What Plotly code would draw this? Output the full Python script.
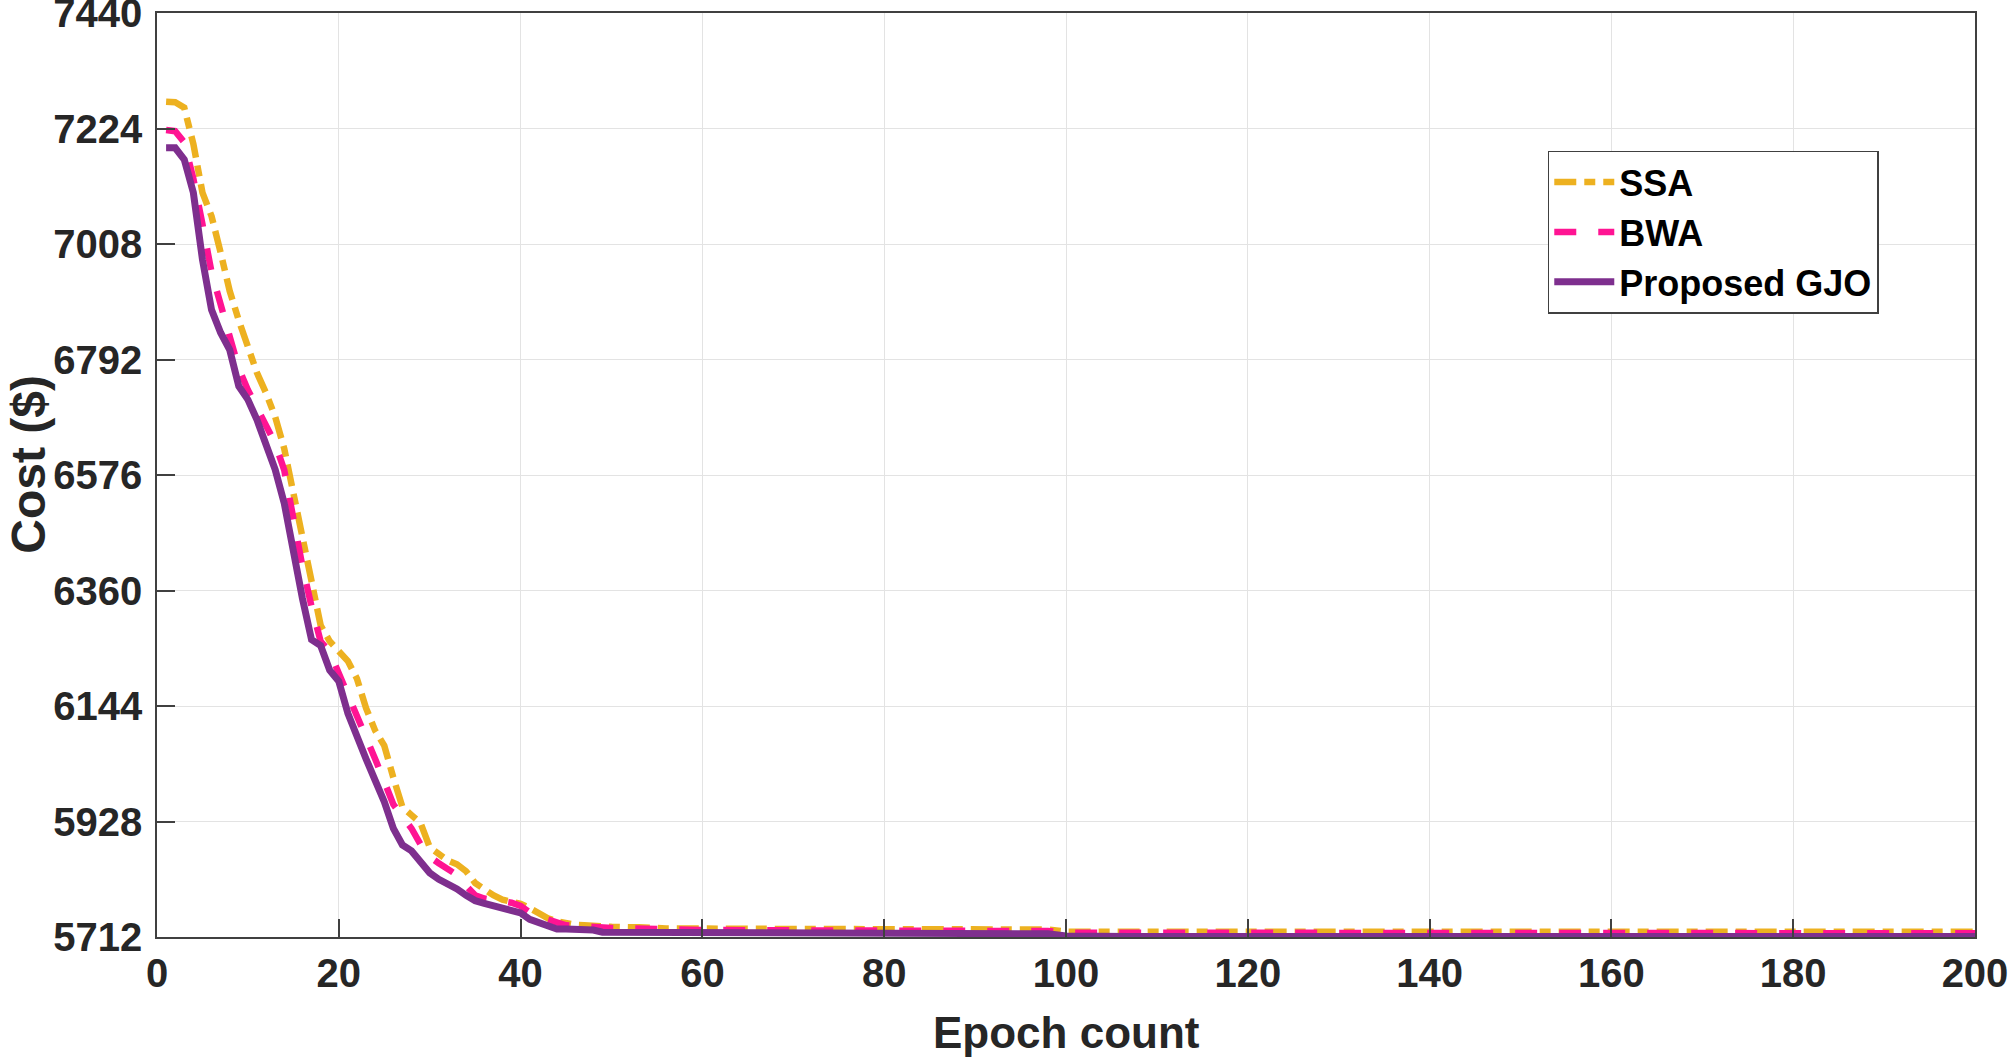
import plotly.graph_objects as go

# ---------------- data ----------------
ssa_epoch = list(range(1, 49)) + [50, 53, 56, 70, 98, 100, 200]
ssa_cost = [7274, 7273, 7263, 7195, 7104, 7060, 6992, 6920, 6865, 6815,
            6767, 6729, 6685, 6625, 6540, 6450, 6370, 6295, 6265, 6248,
            6228, 6195, 6140, 6098, 6070, 6010, 5955, 5940, 5925, 5880,
            5866, 5855, 5848, 5835, 5813, 5800, 5790, 5782, 5778, 5774,
            5766, 5755, 5747, 5741, 5737, 5735, 5734, 5732,
            5731, 5730, 5728, 5727, 5726, 5722, 5722]

bwa_epoch = list(range(1, 49)) + [50, 55, 60, 98, 100, 200]
bwa_cost = [7221, 7219, 7198, 7130, 7045, 6955, 6895, 6840, 6775, 6735,
            6700, 6670, 6635, 6585, 6490, 6405, 6330, 6265, 6245, 6205,
            6168, 6125, 6092, 6045, 6003, 5960, 5937, 5915, 5885, 5862,
            5850, 5840, 5828, 5808, 5790, 5784, 5782, 5780, 5776, 5770,
            5758, 5750, 5745, 5738, 5734, 5733, 5732, 5730,
            5729, 5727, 5725, 5723, 5720, 5719]

gjo_epoch = list(range(1, 51)) + [54, 60, 70, 98, 100, 107, 200]
gjo_cost = [7188, 7188, 7166, 7104, 6979, 6885, 6842, 6810, 6742, 6717,
            6679, 6629, 6586, 6523, 6425, 6345, 6268, 6257, 6211, 6190,
            6130, 6085, 6045, 6005, 5965, 5915, 5884, 5873, 5850, 5832,
            5820, 5812, 5802, 5790, 5780, 5775, 5771, 5767, 5763, 5757,
            5745, 5740, 5734, 5727, 5727, 5727, 5727, 5725, 5721, 5721,
            5719, 5719, 5718, 5718, 5714, 5713, 5713]

x_ticks = [0, 20, 40, 60, 80, 100, 120, 140, 160, 180, 200]
y_ticks = [5712, 5928, 6144, 6360, 6576, 6792, 7008, 7224, 7440]

x_title = "Epoch count"
y_title = "Cost ($)"

# ---------------- figure ----------------
FONT = "Liberation Sans, Arial, sans-serif"
TXT = "#262626"

fig = go.Figure()
fig.add_trace(go.Scatter(x=ssa_epoch, y=ssa_cost, mode="lines", name="SSA",
                         line=dict(color="#EDB120", width=6.5, dash="22px,8px,11px,8px")))
fig.add_trace(go.Scatter(x=bwa_epoch, y=bwa_cost, mode="lines", name="BWA",
                         line=dict(color="#FF1493", width=6.5, dash="22px,22px")))
fig.add_trace(go.Scatter(x=gjo_epoch, y=gjo_cost, mode="lines", name="Proposed GJO",
                         line=dict(color="#7E2F8E", width=7)))

axis_common = dict(
    showgrid=True, gridcolor="#e3e3e3", gridwidth=1,
    showline=True, linecolor="#404040", linewidth=1.5, mirror=True,
    ticks="inside", ticklen=18, tickcolor="#404040", tickwidth=1.5,
    zeroline=False, automargin=False, ticklabeloverflow="allow",
    tickfont=dict(family=FONT, size=40, color=TXT, weight="bold"),
)

fig.update_xaxes(**axis_common, range=[0, 200], tickvals=x_ticks,
                 ticklabelstandoff=0)
fig.update_yaxes(**axis_common, range=[5712, 7440], tickvals=y_ticks,
                 ticklabelstandoff=5)

# axis titles placed as annotations for exact positioning
fig.add_annotation(text=x_title, xref="paper", yref="paper", x=0.5, y=-0.103,
                   xanchor="center", yanchor="middle", showarrow=False,
                   font=dict(family=FONT, size=44, color=TXT, weight="bold"))
fig.add_annotation(text=y_title, xref="paper", yref="paper", x=-0.0705, y=0.512,
                   xanchor="center", yanchor="middle", showarrow=False, textangle=-90,
                   font=dict(family=FONT, size=48, color=TXT, weight="bold"))

fig.update_layout(
    width=2008, height=1057,
    margin=dict(l=157, r=33, t=13, b=120),
    paper_bgcolor="white", plot_bgcolor="white",
    showlegend=True,
    legend=dict(x=0.765, y=0.851, xanchor="left", yanchor="top",
                bgcolor="white", bordercolor="#404040", borderwidth=1.5,
                font=dict(family=FONT, size=36, color="black", weight="bold"),
                itemwidth=60, tracegroupgap=0),
)

fig.write_html("out.html", config={"displayModeBar": False},
               post_script="document.body.style.margin='0px';"
                           "document.body.style.overflow='hidden';")
